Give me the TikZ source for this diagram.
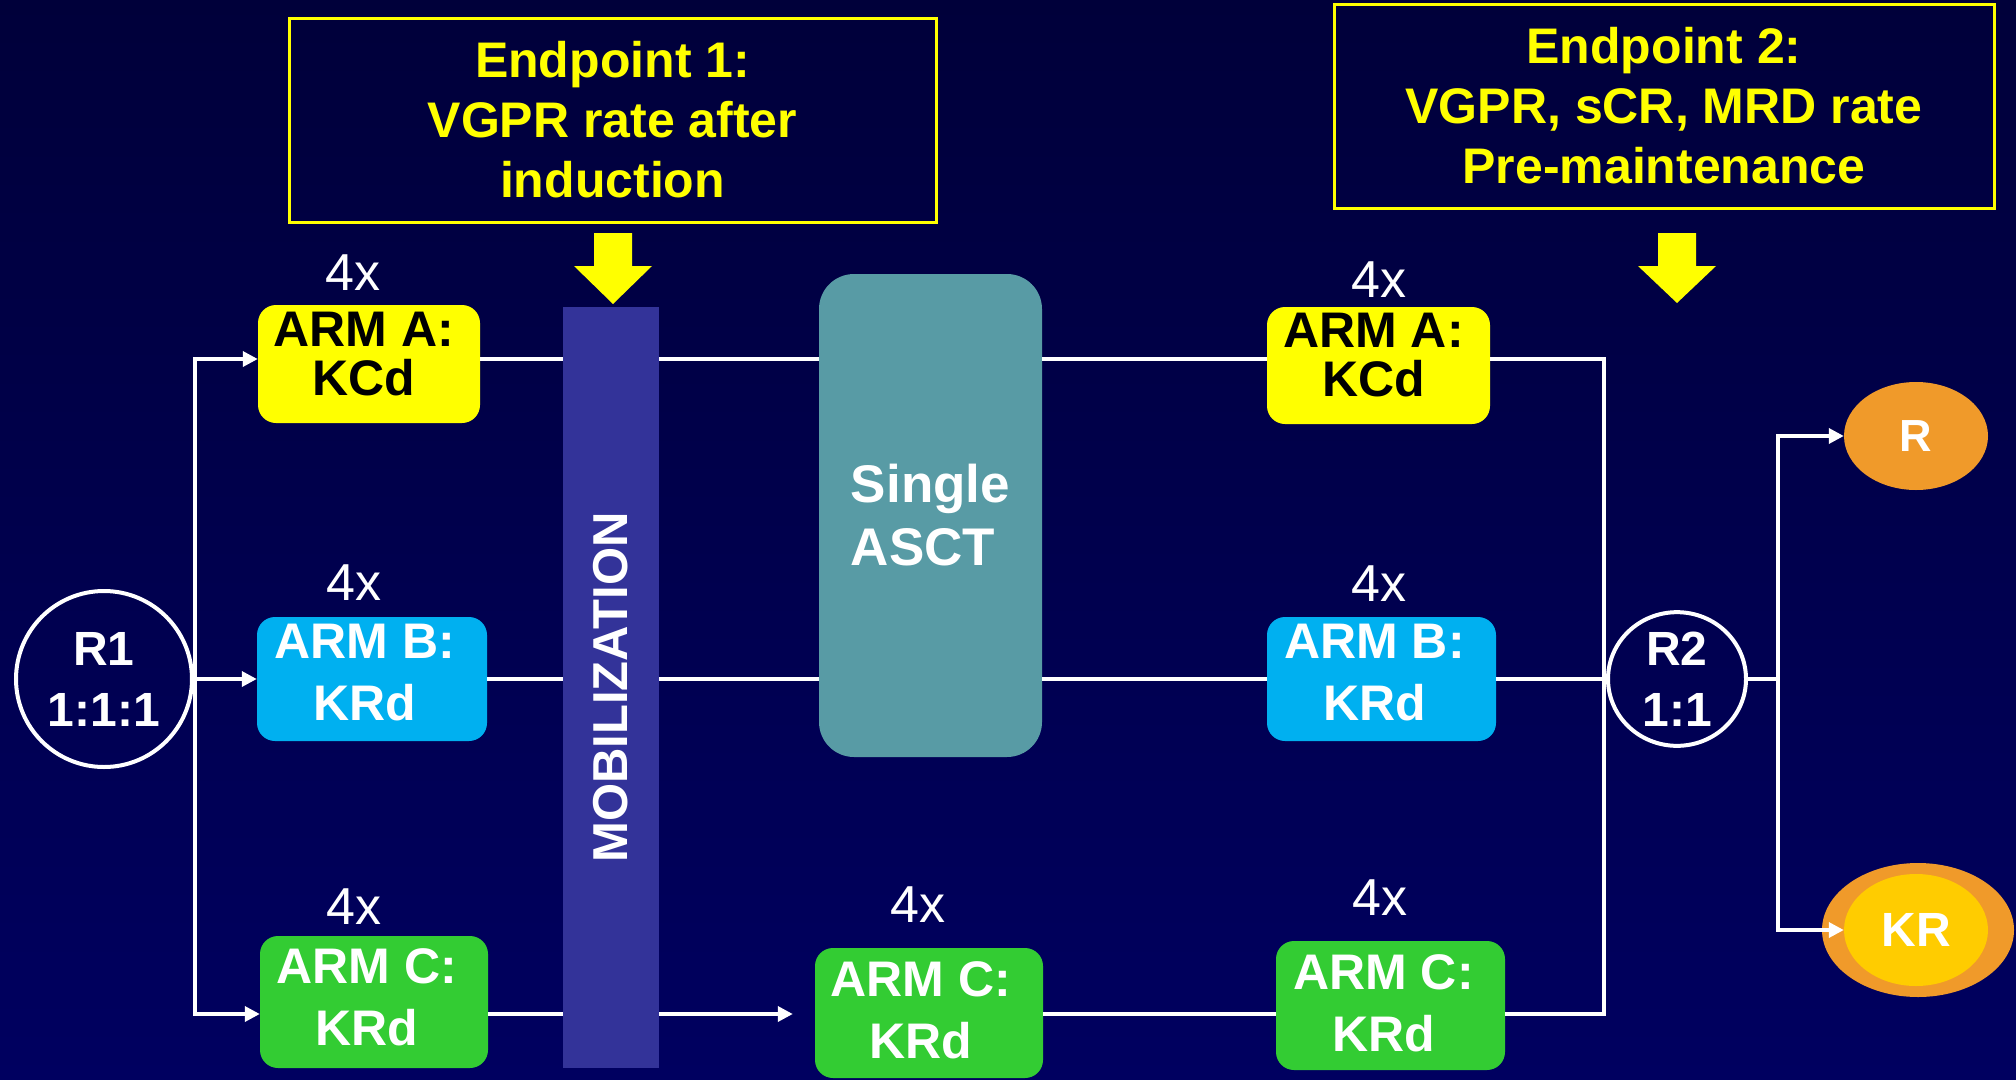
\documentclass[tikz,border=0pt]{standalone}
\usepackage{fontspec}
\setmainfont{Liberation Sans}
\usetikzlibrary{arrows.meta,shapes.geometric}
\definecolor{bgtop}{RGB}{0,0,58}
\definecolor{bgbot}{RGB}{0,0,96}
\definecolor{ylw}{RGB}{255,255,0}
\definecolor{armblue}{RGB}{0,176,240}
\definecolor{armgreen}{RGB}{51,204,51}
\definecolor{asctcol}{RGB}{88,155,165}
\definecolor{mobcol}{RGB}{51,51,153}
\definecolor{orng}{RGB}{240,154,42}
\definecolor{goldkr}{RGB}{255,204,0}
\begin{document}
\begin{tikzpicture}[x=1pt,y=-1pt,
  armbox/.style={rounded corners=18pt, inner sep=0pt},
  armtxt/.style={font=\fontsize{50}{62}\selectfont\bfseries, align=center, inner sep=0pt, text=white},
  cnt/.style={font=\fontsize{52}{60}\selectfont, text=white, anchor=base, inner sep=0pt},
  conn/.style={draw=white, line width=3.5pt},
  arr/.style={conn, -{Triangle[length=15pt,width=15pt]}},
  endbox/.style={draw=ylw, line width=3pt, text=ylw, font=\fontsize{50}{60}\selectfont\bfseries, align=center, inner sep=0pt},
  rcirc/.style={draw=white, line width=4pt, inner sep=0pt, text=white, align=center, font=\fontsize{48}{61}\selectfont\bfseries},
  bigarrow/.style={fill=ylw}
]
\useasboundingbox (0,0) rectangle (2016,1079);
\shade[top color=bgtop, bottom color=bgbot] (0,0) rectangle (2016,1079);

% endpoint boxes
\node[endbox, minimum width=647pt, minimum height=204pt] (E1) at (612.5,120) {Endpoint 1:\\VGPR rate after\\induction};
\node[endbox, minimum width=660pt, minimum height=204pt] (E2) at (1664,106) {Endpoint 2:\\VGPR, sCR, MRD rate\\Pre-maintenance};

% yellow arrows
\fill[bigarrow] (594,233) -- (632,233) -- (632,266) -- (652,266) -- (613,304) -- (574,266) -- (594,266) -- cycle;
\fill[bigarrow] (1658,233) -- (1696,233) -- (1696,266) -- (1716,266) -- (1677,303) -- (1638,266) -- (1658,266) -- cycle;

% mobilization bar and ASCT
\node[fill=mobcol, minimum width=96pt, minimum height=761pt, inner sep=0pt] (mob) at (611,687.5) {};
\node[rotate=90, text=white, font=\fontsize{49}{49}\selectfont\bfseries, inner sep=0pt] (mobt) at (mob.center) {MOBILIZATION};
\node[fill=asctcol, rounded corners=35pt, minimum width=223pt, minimum height=483pt, text=white, font=\fontsize{53}{63}\selectfont\bfseries, align=left, inner sep=0pt] (asct) at (930.5,515.5) {Single\\ASCT};

% arm boxes
\node[armbox, fill=ylw, minimum width=222pt, minimum height=118pt] (A1) at (369,364) {};
\node[armbox, fill=armblue, minimum width=230pt, minimum height=124pt] (B1) at (372,679) {};
\node[armbox, fill=armgreen, minimum width=228pt, minimum height=132pt] (C1) at (374,1002) {};
\node[armbox, fill=armgreen, minimum width=228pt, minimum height=130pt] (C2) at (929,1013) {};
\node[armbox, fill=ylw, minimum width=223pt, minimum height=117pt] (A2) at (1378.5,365.5) {};
\node[armbox, fill=armblue, minimum width=229pt, minimum height=124pt] (B2) at (1381.5,679) {};
\node[armbox, fill=armgreen, minimum width=229pt, minimum height=129pt] (C3) at (1390.5,1005.5) {};

\node[armtxt, text=black, font=\fontsize{50}{49}\selectfont\bfseries] (A1t) at ([xshift=-5pt,yshift=10pt]A1.center) {ARM A:\\KCd};
\node[armtxt] (B1t) at ([xshift=-7pt,yshift=6pt]B1.center) {ARM B:\\KRd};
\node[armtxt] (C1t) at ([xshift=-7pt,yshift=5pt]C1.center) {ARM C:\\KRd};
\node[armtxt] (C2t) at ([xshift=-8pt,yshift=3pt]C2.center) {ARM C:\\KRd};
\node[armtxt, text=black, font=\fontsize{50}{49}\selectfont\bfseries] (A2t) at ([xshift=-5pt,yshift=10pt]A2.center) {ARM A:\\KCd};
\node[armtxt] (B2t) at ([xshift=-7pt,yshift=6pt]B2.center) {ARM B:\\KRd};
\node[armtxt] (C3t) at ([xshift=-7pt,yshift=2pt]C3.center) {ARM C:\\KRd};

% cycle counts
\node[cnt] (q1) at (353,290) {4x};
\node[cnt] (q2) at (354,600) {4x};
\node[cnt] (q3) at (354,924) {4x};
\node[cnt] (q4) at (918,922) {4x};
\node[cnt] (q5) at (1379,297) {4x};
\node[cnt] (q6) at (1379,601) {4x};
\node[cnt] (q7) at (1380,915) {4x};

% randomisation nodes
\node[rcirc, circle, minimum size=176pt] (R1) at (104,679) {R1\\1:1:1};
\node[rcirc, ellipse, minimum width=138pt, minimum height=130pt] (R2) at (1677,679) {R2\\1:1};

% maintenance arms
\node[ellipse, fill=orng, minimum width=144pt, minimum height=108pt, inner sep=0pt, text=white, font=\fontsize{45}{45}\selectfont\bfseries] (R) at (1916,436) {R};
\node[ellipse, fill=orng, minimum width=192pt, minimum height=134pt, inner sep=0pt] (KRo) at (1918,930) {};
\node[ellipse, fill=goldkr, minimum width=144pt, minimum height=112pt, inner sep=0pt, text=white, font=\fontsize{48}{48}\selectfont\bfseries] (KR) at (1916,930) {KR};

% junctions
\coordinate (jL) at (195,679);
\coordinate (rowA) at (0,359);
\coordinate (rowC) at (0,1014);
\coordinate (jR) at (1604,679);
\coordinate (jR2) at (1778,679);

% connectors left
\draw[arr] (R1.east) -- (B1.west);
\draw[arr] (jL) |- (A1.west |- rowA);
\draw[arr] (jL) |- (C1.west |- rowC);

% row A
\draw[conn] (A1.east |- rowA) -- (mob.west |- rowA);
\draw[conn] (mob.east |- rowA) -- (asct.west |- rowA);
\draw[conn] (asct.east |- rowA) -- (A2.west |- rowA);
% row B
\draw[conn] (B1.east) -- (mob.west |- jL);
\draw[conn] (mob.east |- jL) -- (asct.west |- jL);
\draw[conn] (asct.east |- jL) -- (B2.west);
\draw[conn] (B2.east) -- (R2.west);
% row C
\draw[conn] (C1.east |- rowC) -- (mob.west |- rowC);
\draw[arr, shorten >=22pt] (mob.east |- rowC) -- (C2.west |- rowC);
\draw[conn] (C2.east |- rowC) -- (C3.west |- rowC);
% right collector
\draw[conn] (A2.east |- rowA) -| (jR) |- (C3.east |- rowC);
% second randomisation
\draw[conn] (R2.east) -- (jR2);
\draw[arr] (jR2) |- (R.west);
\draw[arr] (jR2) |- (KR.west);
\end{tikzpicture}
\end{document}
